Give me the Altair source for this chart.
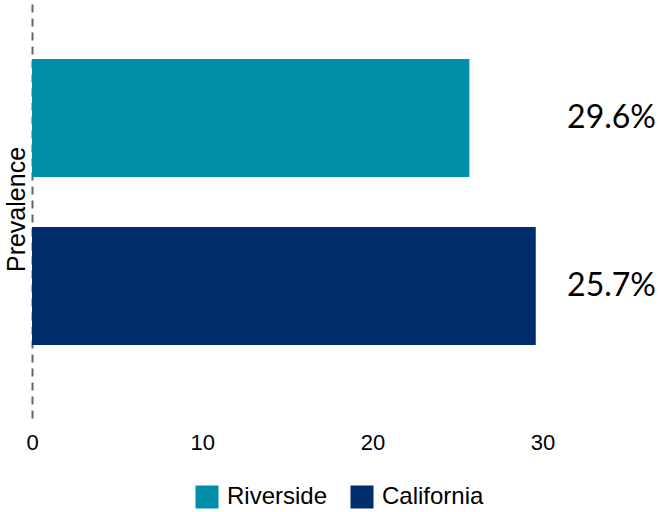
import altair as alt
import pandas as pd

categories = ["Riverside", "California"]
values = [25.7, 29.6]
labels = ["29.6%", "25.7%"]
colors = ["#008FA8", "#002D6B"]
tick_values = [0, 10, 20, 30]

df = pd.DataFrame({"region": categories, "value": values, "label": labels})

y_axis = alt.Axis(
    title="Prevalence",
    labels=False,
    ticks=False,
    domain=True,
    domainDash=[8, 6],
    domainDashOffset=10,
    domainColor="#666666",
    domainWidth=2,
    titleFont="Liberation Sans",
    titleFontSize=25,
    titleFontWeight="normal",
    titleColor="#000000",
    titlePadding=3,
    grid=False,
)
y_scale = alt.Scale(paddingInner=0.298, paddingOuter=0.393, align=0.447)

bars = alt.Chart(df).mark_bar().encode(
    x=alt.X(
        "value:Q",
        scale=alt.Scale(domain=[0, 36.9], nice=False),
        axis=alt.Axis(
            values=tick_values,
            title=None,
            domain=False,
            ticks=False,
            grid=False,
            labelFont="Liberation Sans",
            labelFontSize=22,
            labelColor="#000000",
            labelPadding=14,
            labelFlush=False,
        ),
    ),
    y=alt.Y("region:N", sort=categories, scale=y_scale, axis=y_axis),
    color=alt.Color(
        "region:N",
        scale=alt.Scale(domain=categories, range=colors),
        legend=alt.Legend(
            title=None,
            orient="none",
            direction="horizontal",
            legendX=163,
            legendY=485,
            symbolType="square",
            symbolSize=529,
            symbolStrokeWidth=0,
            symbolOpacity=1,
            labelFont="Liberation Sans",
            labelFontSize=24,
            labelColor="#000000",
            labelOffset=8,
            columnPadding=22,
        ),
    ),
)

text = alt.Chart(df).mark_text(
    align="right", baseline="middle", font="Lato", fontSize=32, color="#000000"
).encode(
    x=alt.value(624),
    y=alt.Y("region:N", sort=categories, scale=y_scale, axis=y_axis),
    text="label:N",
)

chart = (
    alt.layer(bars, text)
    .properties(
        width=628,
        height=418,
        autosize=alt.AutoSizeParams(type="none"),
        padding={"left": 32, "top": 0, "right": 0, "bottom": 94},
        view=alt.ViewBackground(strokeOpacity=0, strokeWidth=0, fill="white"),
    )
    .configure_view(strokeOpacity=0, strokeWidth=0)
    .configure_axis(gridOpacity=0)
    .configure_axisX(domain=False, grid=False, ticks=False)
    .configure(background="white")
)

chart.save("out.html", embed_options={"renderer": "svg", "actions": False})
